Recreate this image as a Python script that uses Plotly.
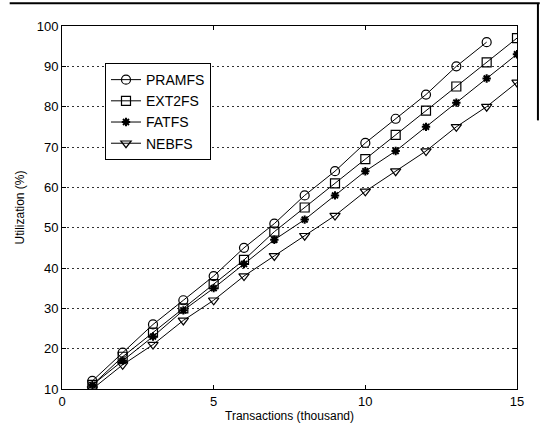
import plotly.graph_objects as go

x_vals = list(range(1, 16))
pramfs = [12, 19, 26, 32, 38, 45, 51, 58, 64, 71, 77, 83, 90, 96]
ext2fs = [11, 18, 24, 30, 36, 42, 49, 55, 61, 67, 73, 79, 85, 91, 97]
fatfs = [11, 17, 23, 29.5, 35, 41, 47, 52, 58, 64, 69, 75, 81, 87, 93]
nebfs = [10, 16, 21, 27, 32, 38, 43, 48, 53, 59, 64, 69, 75, 80, 86]

series = [
    ("PRAMFS", pramfs, "circle-open", 9, 1.2),
    ("EXT2FS", ext2fs, "square-open", 9, 1.2),
    ("FATFS", fatfs, "asterisk-open", 7, 2),
    ("NEBFS", nebfs, "triangle-down-open", 9, 1.2),
]

fig = go.Figure()
for name, ys, sym, sz, lw in series:
    fig.add_trace(go.Scatter(
        x=x_vals[:len(ys)], y=ys, name=name, mode="lines+markers",
        line=dict(color="black", width=1),
        marker=dict(symbol=sym, size=sz, color="black", line=dict(color="black", width=lw)),
    ))

font_family = "Liberation Sans, Arial, sans-serif"
fig.update_layout(
    width=542, height=441,
    margin=dict(l=62, r=25, t=26, b=52),
    paper_bgcolor="white", plot_bgcolor="white",
    font=dict(family=font_family, size=12, color="black"),
    showlegend=True,
    legend=dict(
        x=0.0945, y=0.898, xanchor="left", yanchor="top",
        bgcolor="white", bordercolor="black", borderwidth=1,
        font=dict(size=14, family=font_family),
        tracegroupgap=0, itemwidth=30,
    ),
    xaxis=dict(
        range=[0, 15], tickvals=[0, 5, 10, 15], showgrid=False, zeroline=False,
        showline=True, linecolor="black", linewidth=1, mirror="ticks",
        ticks="inside", ticklen=4, tickcolor="black",
        title=dict(text="Transactions (thousand)", standoff=4, font=dict(size=12)),
        tickfont=dict(size=13),
    ),
    yaxis=dict(
        range=[10, 100], tickvals=list(range(10, 101, 10)),
        showgrid=True, gridcolor="#333333", griddash="1.5px,3.5px", gridwidth=1.3,
        zeroline=False, showline=True, linecolor="black", linewidth=1, mirror="ticks",
        ticks="inside", ticklen=4, tickcolor="black",
        title=dict(text="Utilization (%)", standoff=9, font=dict(size=12)),
        tickfont=dict(size=13),
    ),
)

# scan frame artifacts
fig.add_shape(type="line", xref="paper", yref="paper", x0=-0.115, x1=1.05, y0=1.063, y1=1.063,
              line=dict(color="black", width=2))
fig.add_shape(type="line", xref="paper", yref="paper", x0=1.046, x1=1.046, y0=1.063, y1=0.74,
              line=dict(color="black", width=2))

fig.write_html("out.html")
